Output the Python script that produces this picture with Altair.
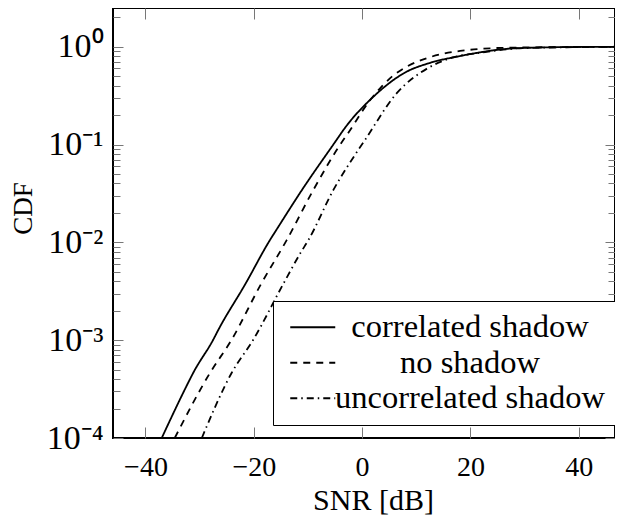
import altair as alt
import pandas as pd

series_names = ["correlated shadow", "no shadow", "uncorrelated shadow"]

# correlated shadow (solid)
corr_snr = [-37.0, -31.8, -31.2, -27.5, -26.5, -21.6, -17.0, -15.8, -11.1, -4.7, -3.45, 2.1, 8.25, 12.3, 18.1, 28.6, 40.0, 47.9]
corr_cdf = [1.0e-4, 3.98e-4, 4.62e-4, 1.01e-3, 1.29e-3, 3.72e-3, 1.06e-2, 1.35e-2, 3.44e-2, 0.112, 0.141, 0.309, 0.557, 0.678, 0.804, 0.966, 0.995, 1.0]

# no shadow (dashed)
no_snr = [-34.6, -28.1, -24.1, -18.7, -13.9, -9.0, -3.45, -2.8, 1.5, 3.6, 5.5, 8.25, 11.9, 18.1, 27.3, 47.9]
no_cdf = [1.0e-4, 4.62e-4, 1.01e-3, 3.72e-3, 1.06e-2, 3.44e-2, 0.112, 0.126, 0.286, 0.391, 0.495, 0.627, 0.762, 0.906, 0.979, 1.0]

# uncorrelated shadow (dash-dotted)
unc_snr = [-29.6, -24.1, -20.1, -14.6, -11.4, -9.9, -5.3, -0.7, 0.55, 6.4, 12.1, 16.25, 22.0, 30.0, 47.9]
unc_cdf = [1.0e-4, 4.62e-4, 1.01e-3, 3.72e-3, 7.76e-3, 1.06e-2, 3.44e-2, 8.83e-2, 0.112, 0.335, 0.603, 0.762, 0.87, 0.97, 1.0]

x_ticks = [-40, -20, 0, 20, 40]
y_major = [1e-4, 1e-3, 1e-2, 1e-1, 1.0]
y_minor = [m * d for d in [1e-4, 1e-3, 1e-2, 1e-1, 1.0] for m in range(2, 10) if m * d < 2.4]
y_ticks = y_major + y_minor

rows = []
for name, xs, ys in zip(series_names, [corr_snr, no_snr, unc_snr], [corr_cdf, no_cdf, unc_cdf]):
    for i, (xv, yv) in enumerate(zip(xs, ys)):
        rows.append({"series": name, "snr": xv, "cdf": yv, "idx": i})
df = pd.DataFrame(rows)

FONT = "Liberation Serif"
x_scale = alt.Scale(domain=[-46, 46.7], nice=False, zero=False)
y_scale = alt.Scale(type="log", domain=[1e-4, 2.49], nice=False)

major_test = "abs(log(datum.value)/LN10 - round(log(datum.value)/LN10)) < 0.001"
y_label_expr = ("abs(datum.value-1)<1e-9 ? '10⁰' : abs(datum.value-0.1)<1e-10 ? '10⁻¹' : "
                "abs(datum.value-0.01)<1e-11 ? '10⁻²' : abs(datum.value-0.001)<1e-12 ? '10⁻³' : "
                "abs(datum.value-0.0001)<1e-13 ? '10⁻⁴' : ''")

dash = alt.StrokeDash(
    "series:N",
    scale=alt.Scale(domain=series_names, range=[[1, 0], [7, 6], [7, 4, 1.5, 4]]),
    legend=alt.Legend(
        title=None, orient="none", legendX=160, legendY=293,
        symbolType="M-2.5,0H2.5", symbolSize=324, symbolStrokeWidth=1.8,
        symbolOffset=13.5,
        symbolStrokeColor="black", labelFont=FONT, labelFontSize=32.5,
        labelColor="black", labelAlign="center", labelOffset=141,
        labelLimit=400, strokeColor="black", fillColor="white",
        padding=10, rowPadding=2.5,
    ),
)

lines = alt.Chart(df).mark_line(color="black", strokeWidth=1.8, clip=True, interpolate="monotone").encode(
    x=alt.X("snr:Q", scale=x_scale, axis=alt.Axis(
        orient="bottom", values=x_ticks, title="SNR [dB]", grid=False, domain=False,
        tickSize=alt.ExprRef(expr="-11"), tickColor="#777", tickWidth=1,
        labelFont=FONT, labelFontSize=28, labelColor="black", labelPadding=26,
        titleFont=FONT, titleFontSize=30, titleFontWeight="normal", titleColor="black",
        titleX=260, titleY=71, titleBaseline="alphabetic")),
    y=alt.Y("cdf:Q", scale=y_scale, axis=alt.Axis(
        orient="left", values=y_ticks, title="CDF", grid=False, domain=False,
        tickSize=alt.ExprRef(expr="-(" + major_test + " ? 10 : 7)"), tickColor="#777", tickWidth=1,
        labelExpr=y_label_expr, labelFont=FONT, labelFontSize=34, labelColor="black",
        labelPadding=20, labelBaseline="middle",
        titleFont=FONT, titleFontSize=27, titleFontWeight="normal", titleColor="black",
        titleX=-82, titleY=200, titleBaseline="alphabetic", titleAngle=270)),
    strokeDash=dash,
    order="idx:Q",
)

mirror = alt.Chart(df).mark_line(opacity=0, clip=True).encode(
    x=alt.X("snr:Q", scale=x_scale, axis=alt.Axis(
        orient="top", values=x_ticks, title=None, labels=False, grid=False, domain=False,
        tickSize=alt.ExprRef(expr="-11"), tickColor="#777", tickWidth=1)),
    y=alt.Y("cdf:Q", scale=y_scale, axis=alt.Axis(
        orient="right", values=y_ticks, title=None, labels=False, grid=False, domain=False,
        tickSize=alt.ExprRef(expr="-(" + major_test + " ? 10 : 7)"), tickColor="#777", tickWidth=1)),
    detail="series:N",
)

chart = alt.layer(mirror, lines).resolve_axis(x="independent", y="independent").properties(
    width=502, height=430,
    autosize=alt.AutoSizeParams(type="none"),
    padding={"left": 105, "top": 0, "right": 0, "bottom": 77},
    view=alt.ViewBackground(stroke="black", strokeWidth=2),
).configure_view(stroke="black", strokeWidth=2, strokeOpacity=1).configure(font=FONT)

chart.save("out.html", embed_options={"renderer": "svg", "actions": False})
